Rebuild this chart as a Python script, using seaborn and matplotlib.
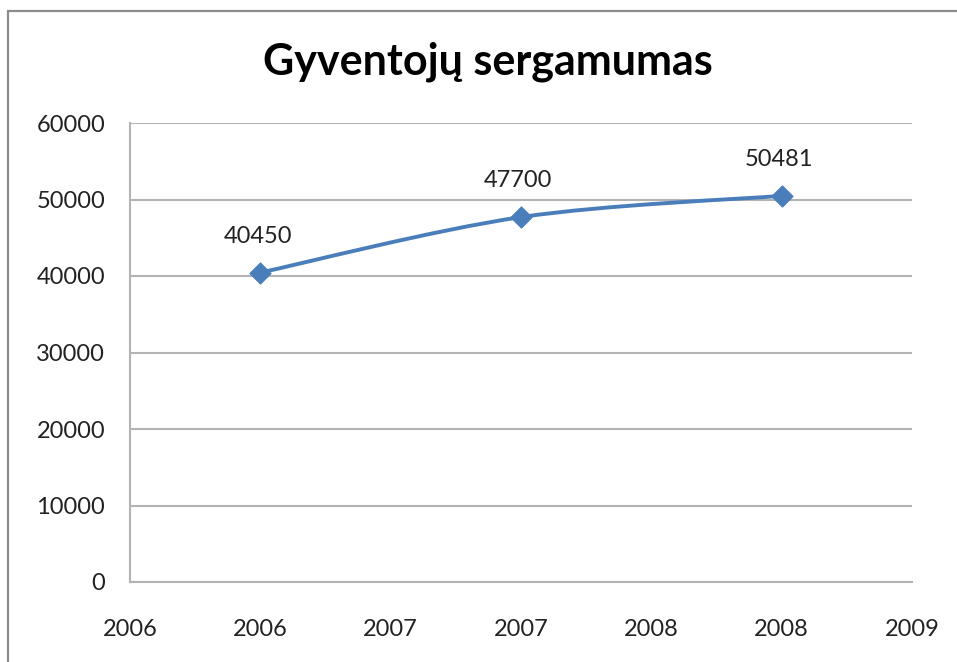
import numpy as np
import matplotlib
matplotlib.use("Agg")
import matplotlib.pyplot as plt
from matplotlib.path import Path
from matplotlib.patches import PathPatch
from matplotlib.lines import Line2D
import seaborn as sns

# --- data ---
years = [2006, 2007, 2008]
cases = [40450, 47700, 50481]
x_ticks = [2005.5, 2006, 2006.5, 2007, 2007.5, 2008, 2008.5]
x_labels = ["2006", "2006", "2007", "2007", "2008", "2008", "2009"]
y_ticks = [0, 10000, 20000, 30000, 40000, 50000, 60000]
title = "Gyventojų sergamumas"

line_color = "#4A7EBB"
grid_color = "#B3B3B3"

sns.set_style("white")
plt.rcParams["font.family"] = ["Lato", "DejaVu Sans"]

fig = plt.figure(figsize=(9.57, 6.62), dpi=100)
ax = fig.add_axes([130 / 957, 1 - 582 / 662, (912 - 130) / 957, (582 - 123) / 662])

# smoothed line (Excel style bezier through the points)
pts = np.column_stack([years, cases]).astype(float)
verts = [pts[0]]
codes = [Path.MOVETO]
for i in range(len(pts) - 1):
    p0 = pts[i - 1] if i > 0 else pts[i]
    p1 = pts[i]
    p2 = pts[i + 1]
    p3 = pts[i + 2] if i + 2 < len(pts) else pts[i + 1]
    c1 = p1 + (p2 - p0) / 6
    c2 = p2 - (p3 - p1) / 6
    verts += [c1, c2, p2]
    codes += [Path.CURVE4] * 3
ax.add_patch(PathPatch(Path(verts, codes), fill=False, edgecolor=line_color,
                       lw=2.8, capstyle="round", zorder=3))

sns.scatterplot(x=years, y=cases, marker="D", s=115, color=line_color,
                edgecolor=line_color, ax=ax, zorder=4)

for x, y in zip(years, cases):
    ax.annotate(str(y), (x, y), xytext=(-2, 26), textcoords="offset points",
                ha="center", va="center", fontsize=17, color="#222222")

ax.set_xlim(2005.5, 2008.5)
ax.set_ylim(0, 60000)
ax.set_xticks(x_ticks)
ax.set_xticklabels(x_labels)
ax.set_yticks(y_ticks)
ax.yaxis.grid(True, color=grid_color, lw=1.5)
ax.xaxis.grid(False)
for side in ["top", "right"]:
    ax.spines[side].set_visible(False)
for side in ["left", "bottom"]:
    ax.spines[side].set_color(grid_color)
    ax.spines[side].set_linewidth(1.5)
ax.tick_params(axis="both", which="both", direction="out", length=7,
               width=1.5, color=grid_color, labelsize=17, labelcolor="#222222")
ax.tick_params(axis="y", pad=11)
ax.tick_params(axis="x", pad=20)
ax.set_xlabel("")
ax.set_ylabel("")

fig.text(488 / 957, 1 - 62 / 662, title, ha="center", va="center",
         fontsize=31, fontweight="bold", color="#000000")

# chart area border (top and left edges visible)
fig.add_artist(Line2D([8 / 957, 1], [1 - 11 / 662, 1 - 11 / 662],
                      transform=fig.transFigure, color="#8C8C8C", lw=1.6))
fig.add_artist(Line2D([8 / 957, 8 / 957], [0, 1 - 11 / 662],
                      transform=fig.transFigure, color="#8C8C8C", lw=1.6))

fig.savefig("out.png", dpi=100)
